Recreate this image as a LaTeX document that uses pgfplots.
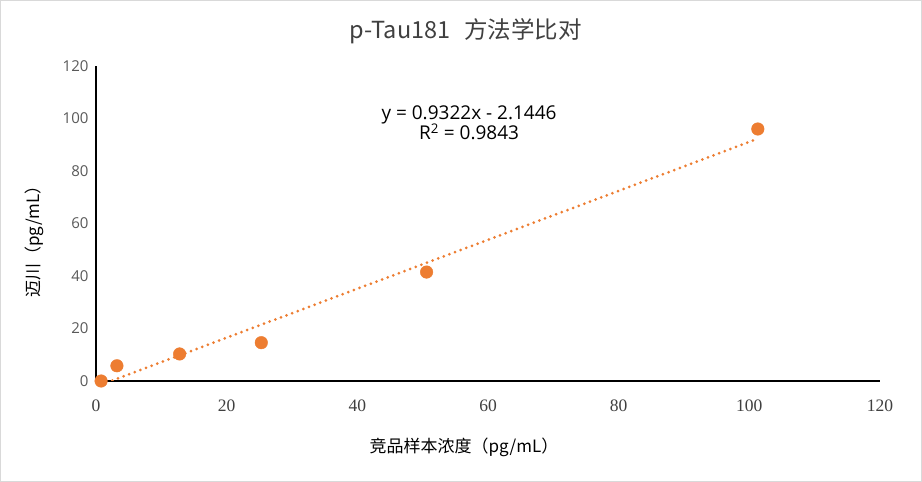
\documentclass[border=0pt]{standalone}
\usepackage{pgfplots}
\pgfplotsset{compat=1.18}
\usepackage{fontspec}
\setmainfont{Open Sans}
\newfontfamily\cjk{Noto Sans CJK SC}
\newfontfamily\serifnum{Liberation Serif}
\definecolor{xlorange}{HTML}{ED7D31}
\definecolor{ticktext}{HTML}{595959}
\definecolor{titletext}{HTML}{404040}
\begin{document}
\begin{tikzpicture}[x=1pt,y=1pt]
\draw[draw=black!15, line width=1pt, fill=white] (0.5,0.5) rectangle (921.5,481.5);
\begin{axis}[
  at={(96pt,101pt)}, anchor=south west,
  scale only axis, width=784pt, height=315pt,
  xmin=0, xmax=120, ymin=0, ymax=120,
  axis x line*=bottom, axis y line*=left,
  axis line style={black, line width=1.8pt},
  xtick={0,20,...,120}, ytick={0,20,...,120},
  major tick length=0pt,
  x tick label style={text=titletext, yshift=-15pt, font=\fontsize{17.5}{17.5}\serifnum},
  xticklabel={\pgfmathprintnumber[assume math mode=true]{\tick}},
  y tick label style={text=ticktext, xshift=-4pt, font=\fontsize{15}{15}\selectfont},
  yticklabel={\pgfmathprintnumber[assume math mode=true]{\tick}},
  xlabel={\cjk 竞品样本浓度（pg/mL）},
  xlabel style={at={(axis description cs:0.5,0)}, anchor=center, xshift=-24pt, yshift=-66pt, font=\fontsize{17}{17}\selectfont, text=black},
  ylabel={\cjk 迈川（pg/mL）},
  ylabel style={at={(axis description cs:0,0.5)}, anchor=center, xshift=-14pt, yshift=62pt, font=\fontsize{17}{17}\selectfont, text=black},
  title={\cjk p-Tau181\hspace{0.6em}方法学比对},
  title style={at={(axis description cs:0.5,1)}, anchor=center, xshift=-22pt, yshift=29pt, font=\fontsize{23.5}{23.5}\selectfont, text=titletext},
  clip=true,
]
\addplot[xlorange, line width=3pt, line cap=round, dash pattern=on 0pt off 6pt]
  coordinates {(0.78,-1.42) (101.3,92.29)};
\addplot[only marks, mark=*, mark size=6.3pt, color=xlorange, mark options={draw=xlorange, fill=xlorange}]
  coordinates {(0.78,0) (3.2,5.8) (12.8,10.3) (25.3,14.6) (50.6,41.5) (101.3,96)};
\node[align=center, font=\fontsize{19}{20.5}\selectfont, text=black] at (axis cs:57.1,98.4)
  {y = 0.9322x - 2.1446\\R\textsuperscript{2} = 0.9843};
\end{axis}
\end{tikzpicture}
\end{document}
